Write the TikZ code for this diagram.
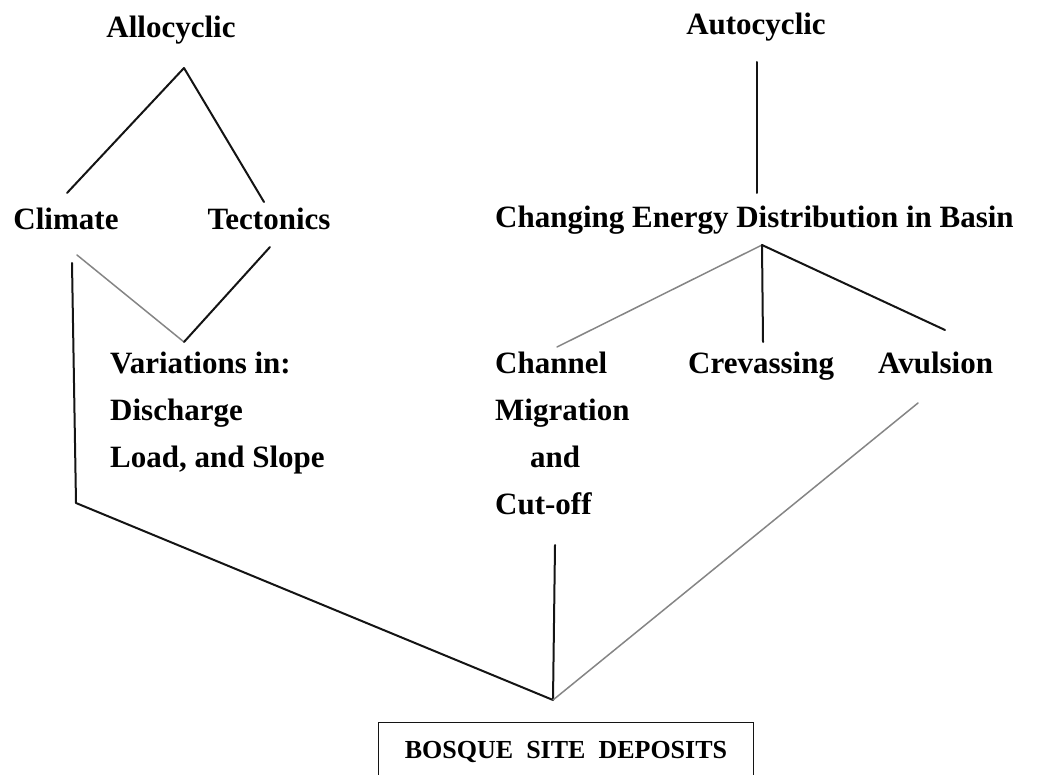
\documentclass[tikz,border=0pt]{standalone}
\usepackage{fontspec}
\setmainfont{Liberation Serif}
\usetikzlibrary{positioning}
\definecolor{Cink}{HTML}{141414}
\definecolor{Cfaint}{HTML}{858585}
\tikzset{
	lbl/.style={font=\fontsize{31}{37}\selectfont\bfseries,inner sep=0pt,anchor=base},
	lblw/.style={lbl,anchor=base west},
	link/.style={Cink,line width=2pt,line cap=round,line join=round},
	faintlink/.style={link,draw=Cfaint,line width=1.5pt}
}
\begin{document}
\begin{tikzpicture}[x=1pt,y=-1pt]
			\useasboundingbox (0,0) rectangle (1038,775);
			% allocyclic side
			\node[lbl] (allo) at (171,38) {Allocyclic};
			\node[lbl] (clim) at (66,230) {Climate};
			\node[lbl] (tect) at (269,230) {Tectonics};
			\node[lblw] (var1) at (110,373) {Variations in:};
			\node[lblw] (var2) at (110,420) {Discharge};
			\node[lblw] (var3) at (110,467) {Load, and Slope};
			% autocyclic side
			\node[lbl] (auto) at (756,35) {Autocyclic};
			\node[lblw] (energy) at (495,228) {Changing Energy Distribution in Basin};
			\node[lblw] (chan1) at (495,373) {Channel};
			\node[lblw] (chan2) at (495,420) {Migration};
			\node[lblw] (chan3) at (530,467) {and};
			\node[lblw] (chan4) at (495,514) {Cut-off};
			\node[lblw] (crev) at (688,373) {Crevassing};
			\node[lblw] (avul) at (878,373) {Avulsion};
			% deposits box
			\draw[Cink,line width=1pt] (378,722) rectangle (753,779);
			\node[lbl,font=\fontsize{26}{30}\selectfont\bfseries] (bosque) at (566,758) {BOSQUE\ \ SITE\ \ DEPOSITS};
			% joints
			\coordinate (alloTip) at (184,68);
			\coordinate (climTop) at (67,193);
			\coordinate (tectTop) at (264,202);
			\coordinate (climBot) at (77,255);
			\coordinate (tectBot) at (270,247);
			\coordinate (varTip) at (184,342);
			\coordinate (climLeg) at (72,263);
			\coordinate (climCorner) at (76,503);
			\coordinate (depTip) at (553,700);
			\coordinate (autoBot) at (757,62);
			\coordinate (energyTop) at (757,193);
			\coordinate (energyTip) at (762,245);
			\coordinate (chanTop) at (557,347);
			\coordinate (crevTop) at (763,342);
			\coordinate (avulTop) at (945,330);
			\coordinate (chanBot) at (555,545);
			\coordinate (avulBot) at (918,403);
			\draw[link] (climTop) -- (alloTip) -- (tectTop);
			\draw[faintlink] (climBot) -- (varTip);
			\draw[link] (tectBot) -- (varTip);
			\draw[link] (climLeg) -- (climCorner) -- (depTip);
			\draw[link] (autoBot) -- (energyTop);
			\draw[faintlink] (energyTip) -- (chanTop);
			\draw[link] (energyTip) -- (crevTop);
			\draw[link] (energyTip) -- (avulTop);
			\draw[link] (chanBot) -- (depTip);
			\draw[faintlink] (avulBot) -- (depTip);
		\end{tikzpicture}
\end{document}
